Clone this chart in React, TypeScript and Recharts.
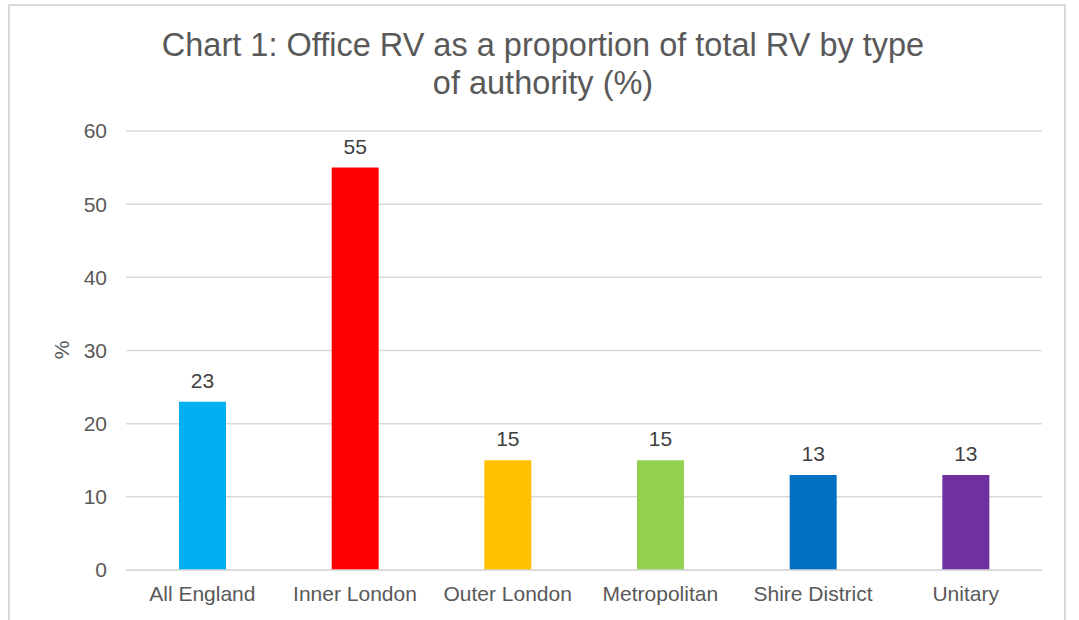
import React from 'react';
import {
  BarChart,
  Bar,
  XAxis,
  YAxis,
  CartesianGrid,
  Cell,
  LabelList,
} from 'recharts';

const categories = [
  'All England',
  'Inner London',
  'Outer London',
  'Metropolitan',
  'Shire District',
  'Unitary',
];
const officeShare = [23, 55, 15, 15, 13, 13];
const barColors = ['#00B0F0', '#FF0000', '#FFC000', '#92D050', '#0070C0', '#7030A0'];
const yTicks = [0, 10, 20, 30, 40, 50, 60];

const data = categories.map((name, i) => ({ name, value: officeShare[i] }));

const FONT = '"Liberation Sans", Arial, sans-serif';
const TEXT_GREY = '#595959';

export default function App() {
  return (
    <div
      style={{
        position: 'absolute',
        left: 0,
        top: 0,
        width: 1079,
        height: 620,
        overflow: 'hidden',
        background: '#fff',
        fontFamily: FONT,
      }}
    >
      {/* chart frame */}
      <div
        style={{
          position: 'absolute',
          left: 8,
          top: 4,
          width: 1058,
          height: 640,
          border: '2px solid #d9d9d9',
          boxSizing: 'border-box',
        }}
      />
      <div
        style={{
          position: 'absolute',
          left: 0,
          top: 26,
          width: 1086,
          textAlign: 'center',
          fontSize: 32.5,
          lineHeight: '38px',
          color: TEXT_GREY,
        }}
      >
        Chart 1: Office RV as a proportion of total RV by type
        <br />
        of authority (%)
      </div>
      <div
        style={{
          position: 'absolute',
          left: 52,
          top: 338,
          width: 20,
          height: 24,
          lineHeight: '24px',
          textAlign: 'center',
          fontSize: 21,
          color: TEXT_GREY,
          transform: 'rotate(-90deg)',
        }}
      >
        %
      </div>
      <div style={{ position: 'absolute', left: 0, top: 0 }}>
        <BarChart
          width={1079}
          height={620}
          data={data}
          margin={{ top: 131, right: 37, left: 66, bottom: 20 }}
        >
          <CartesianGrid vertical={false} stroke="#d9d9d9" strokeWidth={1.5} />
          <XAxis
            dataKey="name"
            axisLine={{ stroke: '#d9d9d9', strokeWidth: 1.5 }}
            tickLine={false}
            height={30}
            tickSize={6}
            tickMargin={10}
            tick={{ fill: TEXT_GREY, fontSize: 21, fontFamily: FONT }}
            interval={0}
          />
          <YAxis
            width={60}
            domain={[0, 60]}
            ticks={yTicks}
            axisLine={false}
            tickLine={false}
            tickSize={6}
            tickMargin={13}
            tick={{ fill: TEXT_GREY, fontSize: 21, fontFamily: FONT }}
          />
          <Bar dataKey="value" barSize={47} isAnimationActive={false}>
            {data.map((d, i) => (
              <Cell key={d.name} fill={barColors[i]} />
            ))}
            <LabelList
              dataKey="value"
              position="top"
              offset={14}
              fill="#404040"
              fontSize={21}
              fontFamily={FONT}
            />
          </Bar>
        </BarChart>
      </div>
    </div>
  );
}
